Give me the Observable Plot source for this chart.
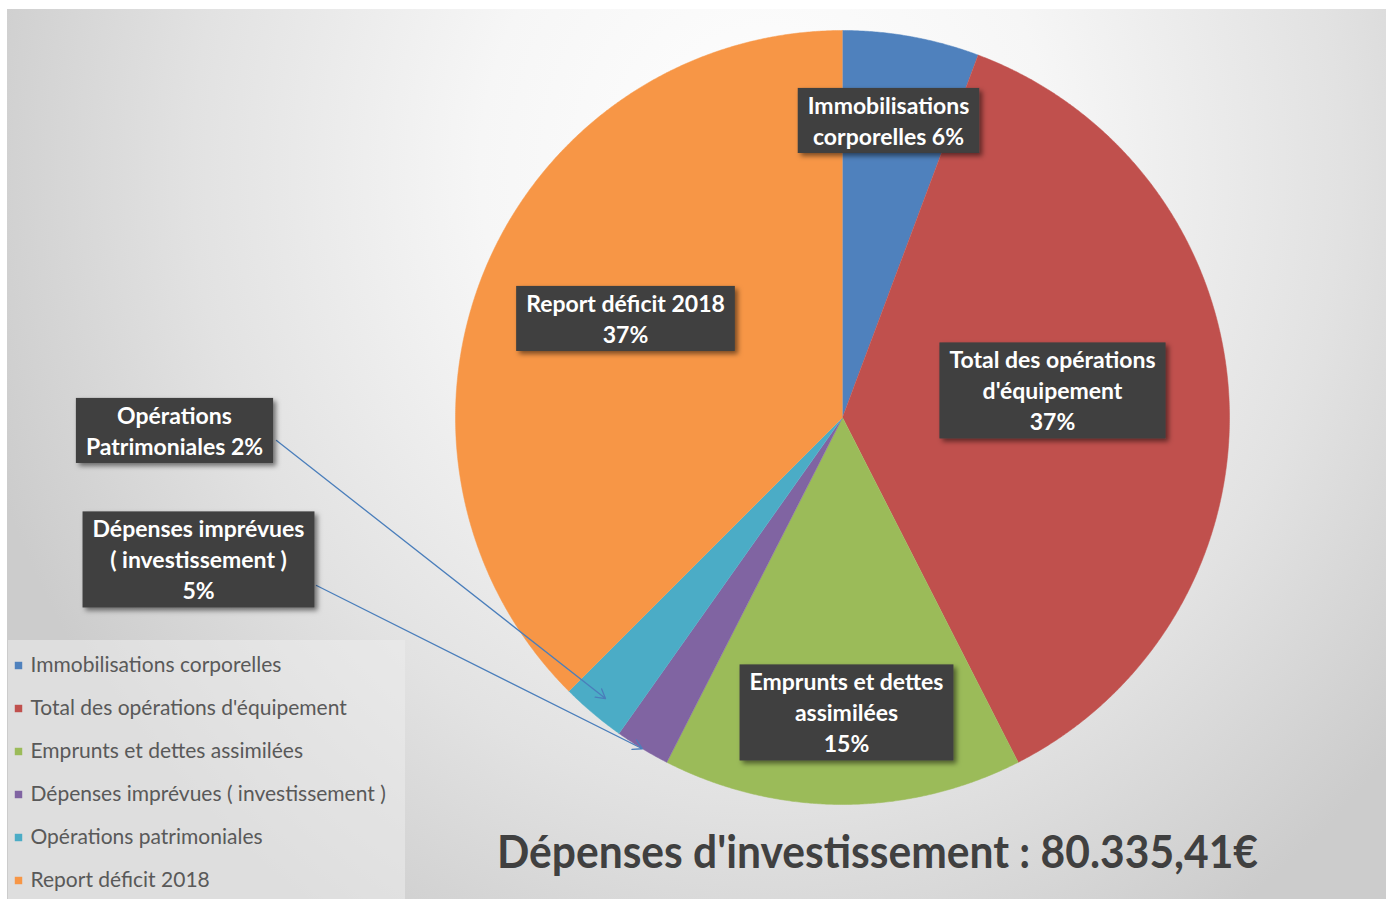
<!DOCTYPE html>
<html><head><meta charset="utf-8">
<script src="https://cdn.jsdelivr.net/npm/d3@7"></script>
<script src="https://cdn.jsdelivr.net/npm/@observablehq/plot@0.6"></script>
<style>
body{margin:0;background:#fff;width:1386px;height:899px;overflow:hidden;position:relative;}
#bg{position:absolute;left:7px;top:9px;width:1379px;height:890px;
 background:radial-gradient(ellipse 820px 900px at 760px 160px,#ffffff 0%,#f6f6f6 35%,#e2e2e2 70%,#cccccc 100%);}
#legendbox{position:absolute;left:8px;top:640px;width:397px;height:259px;background:rgba(236,236,236,0.55);}
#chart{position:absolute;left:0;top:0;}
</style></head><body>
<div id="bg"></div><div id="legendbox"></div><div id="chart"></div>
<script>
// ---- data ----
const categories = ["Immobilisations corporelles","Total des opérations d'équipement","Emprunts et dettes assimilées","Dépenses imprévues ( investissement )","Opérations patrimoniales","Report déficit 2018"];
const values = [5.7, 36.8, 15.0, 2.3, 2.7, 37.5];
const colors = ["#4F81BD","#C0504D","#9BBB59","#8064A2","#4BACC6","#F79646"];
const labelTexts = ["Immobilisations\ncorporelles 6%","Total des opérations\nd'équipement\n37%","Emprunts et dettes\nassimilées\n15%","Dépenses imprévues\n( investissement )\n5%","Opérations\nPatrimoniales 2%","Report déficit 2018\n37%"];
const title = "Dépenses d'investissement : 80.335,41€";

// ---- layout ----
const W = 1386, H = 899, cx = 842, cy = 417, R = 387;
const labelX = [888, 1052, 846, 198, 174, 625];
const labelY = [119, 389, 711, 558, 429, 317];
const arrowFrom = {3: [316, 585], 4: [276, 440]};
const arrowR = {3: 1.0, 4: 0.95};

const arcs = d3.pie().sort(null).value(d => d)(values);
const pts = [];
arcs.forEach((s, i) => {
  pts.push({k: categories[i], x: cx, y: cy});
  const n = Math.max(2, Math.ceil((s.endAngle - s.startAngle) / 0.005));
  for (let j = 0; j <= n; j++) {
    const a = s.startAngle + (s.endAngle - s.startAngle) * j / n;
    pts.push({k: categories[i], x: cx + R * Math.sin(a), y: cy - R * Math.cos(a)});
  }
});
const labels = categories.map((c, i) => ({k: c, text: labelTexts[i], x: labelX[i], y: labelY[i]}));
const arrows = Object.keys(arrowFrom).map(i => {
  const s = arcs[i], a = (s.startAngle + s.endAngle) / 2, r = R * arrowR[i];
  return {x1: arrowFrom[i][0], y1: arrowFrom[i][1], x2: cx + r * Math.sin(a), y2: cy - r * Math.cos(a)};
});
const legend = categories.map((c, i) => ({k: c, y: 665 + i * 43}));

const chart = Plot.plot({
  width: W, height: H, margin: 0,
  x: {domain: [0, W], range: [0, W], axis: null},
  y: {domain: [0, H], range: [0, H], axis: null},
  color: {domain: categories, range: colors},
  style: {background: "transparent", fontFamily: "Lato, sans-serif", overflow: "visible"},
  marks: [
    Plot.line(pts, {x: "x", y: "y", z: "k", fill: "k", stroke: "k", strokeWidth: 0.5}),
    Plot.arrow(arrows, {x1: "x1", y1: "y1", x2: "x2", y2: "y2", stroke: "#4a7ebb", strokeWidth: 1.3, headLength: 12}),
    Plot.text(labels, {x: "x", y: "y", text: "text", fill: "#ffffff", fontSize: 23, fontWeight: "bold", lineHeight: 1.35, textAnchor: "middle", lineAnchor: "middle"}),
    Plot.dot(legend, {x: () => 18, y: "y", fill: "k", symbol: "square", r: 4.2}),
    Plot.text(legend, {x: () => 30, y: "y", text: "k", fill: "#595959", fontSize: 21, textAnchor: "start", lineAnchor: "middle"}),
    Plot.text([title], {x: () => 877, y: () => 853, text: d => d, fill: "#404040", fontSize: 46, fontWeight: "bold", textAnchor: "middle", lineAnchor: "middle"})
  ]
});
document.getElementById("chart").append(chart);

const textGroups = chart.querySelectorAll('g[aria-label="text"]');
// label boxes with drop shadow
const ns = "http://www.w3.org/2000/svg";
const defs = document.createElementNS(ns, "defs");
defs.innerHTML = '<filter id="sh" x="-20%" y="-30%" width="150%" height="170%"><feDropShadow dx="3" dy="3" stdDeviation="2.5" flood-color="#000" flood-opacity="0.5"/></filter>';
chart.prepend(defs);
if (textGroups[0]) {
  textGroups[0].querySelectorAll(':scope > text').forEach(t => {
    const b = t.getBBox();
    const r = document.createElementNS(ns, "rect");
    r.setAttribute("x", b.x - 10);
    r.setAttribute("y", b.y - 3);
    r.setAttribute("width", b.width + 20);
    r.setAttribute("height", b.height + 6);
    r.setAttribute("fill", "#404040");
    r.setAttribute("filter", "url(#sh)");
    if (t.getAttribute("transform")) r.setAttribute("transform", t.getAttribute("transform"));
    t.parentNode.insertBefore(r, t);
  });
}
const tg = textGroups[textGroups.length - 1];
const tt = tg && tg.querySelector('text');
if (tt) { tt.setAttribute("textLength", 761); tt.setAttribute("lengthAdjust", "spacingAndGlyphs"); }
</script>
</body></html>
